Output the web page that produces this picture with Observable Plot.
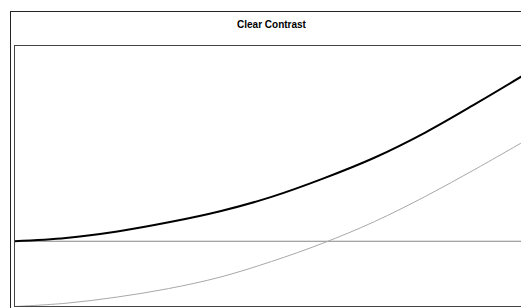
<!DOCTYPE html>
<html>
<head>
<meta charset="utf-8">
<script src="https://cdn.jsdelivr.net/npm/d3@7"></script>
<script src="https://cdn.jsdelivr.net/npm/@observablehq/plot@0.6"></script>
<style>
  html, body { margin: 0; padding: 0; background: #fff; }
  body { width: 521px; height: 308px; overflow: hidden; position: relative; font-family: "Liberation Sans", Arial, sans-serif; }
  #outer { position: absolute; left: 10px; top: 11px; width: 600px; height: 400px; border: 1px solid #222; box-sizing: border-box; }
  #title { position: absolute; left: 10px; top: 19px; width: 523px; text-align: center; font-weight: bold; font-size: 10px; line-height: 12px; color: #000; }
  #chart { position: absolute; left: 0; top: 0; }
</style>
</head>
<body>
<div id="outer"></div>
<div id="title">Clear Contrast</div>
<div id="chart"></div>
<script>
const steps = [0, 1, 2, 3, 4, 5, 6, 7, 8, 9, 10];
const seriesA = [0, 0.05, 0.15, 0.29, 0.46, 0.68, 0.96, 1.28, 1.67, 2.12, 2.59];
const seriesB = [-1.0, -0.95, -0.855, -0.725, -0.55, -0.31, -0.03, 0.30, 0.69, 1.12, 1.57];

const rowsA = steps.map((x, i) => ({x, y: seriesA[i]}));
const rowsB = steps.map((x, i) => ({x, y: seriesB[i]}));

const plot = Plot.plot({
  width: 521,
  height: 308,
  marginTop: 45,
  marginBottom: 2,
  marginLeft: 14,
  marginRight: -7,
  style: {background: "transparent", overflow: "visible"},
  x: {domain: [0, 10], axis: null},
  y: {domain: [-1, 3], axis: null},
  marks: [
    Plot.ruleY([0], {stroke: "#888", strokeWidth: 1}),
    Plot.line(rowsB, {x: "x", y: "y", stroke: "#a8a8a8", strokeWidth: 1, curve: "catmull-rom", clip: true}),
    Plot.line(rowsA, {x: "x", y: "y", stroke: "#000", strokeWidth: 2, curve: "catmull-rom", clip: true}),
    Plot.frame({stroke: "#444", strokeWidth: 1})
  ]
});
document.getElementById("chart").appendChild(plot);
</script>
</body>
</html>
